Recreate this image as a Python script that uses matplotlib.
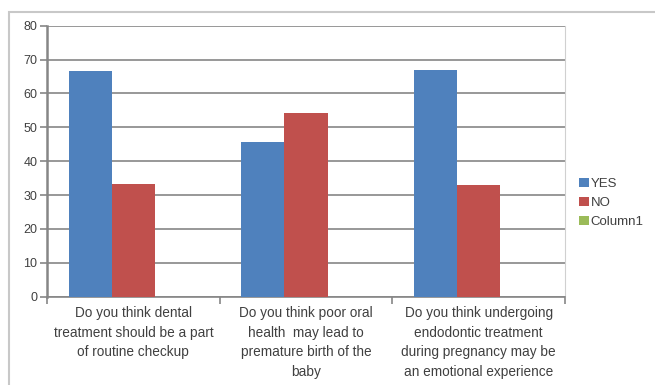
import numpy as np
import matplotlib
matplotlib.use("Agg")
import matplotlib.pyplot as plt
from matplotlib.patches import Rectangle

categories = [
    "Do you think dental\ntreatment should be a part\nof routine checkup",
    "Do you think poor oral\nhealth  may lead to\npremature birth of the\nbaby",
    "Do you think undergoing\nendodontic treatment\nduring pregnancy may be\nan emotional experience",
]
yes = [66.7, 45.8, 67.0]
no = [33.3, 54.2, 32.9]
column1 = [0, 0, 0]
series_names = ["YES", "NO", "Column1"]
colors = ["#4f81bd", "#c0504d", "#9bbb59"]
yticks = [0, 10, 20, 30, 40, 50, 60, 70, 80]

plt.rcParams["font.family"] = ["Liberation Sans", "DejaVu Sans"]
txt = "#404040"

fig = plt.figure(figsize=(6.55, 3.85), dpi=100)
# outer chart border
fig.patches.append(Rectangle((9 / 655, -0.1), 1.0, 1 - 12 / 385 + 0.1,
                             transform=fig.transFigure, fill=False,
                             edgecolor="#c8c8c8", lw=1.5))
ax = fig.add_axes([47 / 655, 1 - 296.7 / 385, 518 / 655, 271 / 385])

x = np.arange(len(categories))
w = 0.25
for i, (vals, name) in enumerate(zip([yes, no, column1], series_names)):
    ax.bar(x + (i - 1) * w, vals, w, color=colors[i], label=name, zorder=3)

ax.set_xlim(-0.5, len(categories) - 0.5)
ax.set_ylim(0, 80)
ax.set_yticks(yticks)
ax.yaxis.grid(True, color="#868686", lw=1.2, zorder=0)
ax.set_xticks(np.arange(-0.5, len(categories)), minor=False)
ax.set_xticklabels([])
ax.set_xticks(x, minor=True)
ax.set_xticklabels(categories, minor=True, fontsize=9.8, color=txt, linespacing=1.5)
ax.tick_params(axis="x", which="minor", length=0, pad=7)
ax.tick_params(axis="x", which="major", length=5, color="#868686", width=1.2)
ax.tick_params(axis="y", length=5, color="#868686", width=1.2, labelsize=9,
               labelcolor=txt, pad=2)
ax.spines["top"].set_visible(False)
ax.spines["left"].set_color("#868686")
ax.spines["left"].set_linewidth(1.8)
ax.spines["bottom"].set_color("#868686")
ax.spines["bottom"].set_linewidth(1.2)
ax.spines["right"].set_color("#d0d0d0")

ax.legend(loc="center left", bbox_to_anchor=(1.01, 0.345), frameon=False,
          fontsize=9.5, handlelength=0.7, handleheight=0.7, handletextpad=0.15,
          labelspacing=0.5, labelcolor=txt, borderaxespad=0.3)

fig.savefig("out.png", dpi=100)
